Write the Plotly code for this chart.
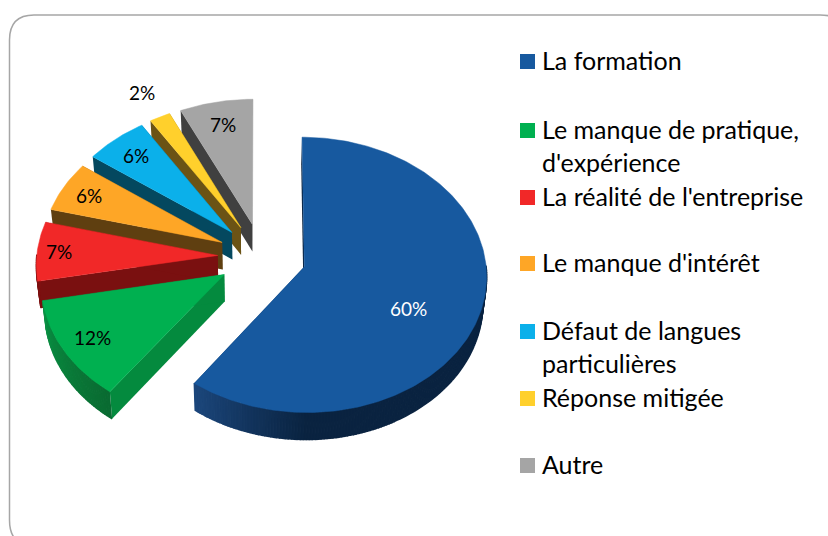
import numpy as np
import plotly.graph_objects as go

categories = [
    "La formation",
    "Le manque de pratique,<br>d'expérience",
    "La réalité de l'entreprise",
    "Le manque d'intérêt",
    "Défaut de langues<br>particulières",
    "Réponse mitigée",
    "Autre",
]
values = [60, 12, 7, 6, 6, 2, 7]
colors = ["#17599f", "#00b050", "#f12828", "#fea626", "#0bb0ea", "#ffd02c", "#a5a5a5"]
edge_colors = ["#0a2340", "#048a3e", "#7a1010", "#5f3f10", "#04485f", "#6b5315", "#404040"]
# wall colour at the start and at the end of each slice's outer rim
rim_start = ["#0a2340", "#0a6b32", "#7a1010", "#5f3f10", "#04485f", "#6b5315", "#404040"]
rim_end = ["#1c477c", "#0a9144", "#8a1414", "#5f3f10", "#04485f", "#6b5315", "#404040"]
label_radius = [0.63, 0.83, 0.88, 0.84, 0.82, 1.23, 0.81]
label_turn = [10, 0, 0, 0, 0, 0, 0]
label_colors = ["white", "black", "black", "black", "black", "black", "black"]
legend_y = [61, 130, 197, 263, 331, 398, 465]

# tilted pie, canvas pixels as axis units
CX, CY, RX, RY = 262, 256.5, 181, 136
EXPLODE = 0.245
PERSP = 0.058
DEPTH = 27
VANISH_X = 251
FONT = "Lato"


def project(x, y):
    w = 1 + PERSP * y
    return CX + RX * x / w, CY - RY * y / w


def lower(sx, sy):
    # bottom face of the pie, slightly pulled to the centre
    return VANISH_X + (sx - VANISH_X) * 0.984, sy + DEPTH


def mix(c1, c2, t):
    a = [int(c1[i:i + 2], 16) for i in (1, 3, 5)]
    b = [int(c2[i:i + 2], 16) for i in (1, 3, 5)]
    return "rgb(%d,%d,%d)" % tuple(p + (q - p) * t for p, q in zip(a, b))


def poly(xs, ys, color, width=0.5):
    return go.Scatter(
        x=list(xs), y=list(ys), mode="lines", fill="toself", fillcolor=color,
        line=dict(width=width, color=color), hoverinfo="skip",
    )


fig = go.Figure()

shares = np.array(values) / sum(values) * 2 * np.pi
ends = np.cumsum(shares)
starts = ends - shares
labels = []

# back slices first, so the front ones cover them
for i in range(len(values) - 1, -1, -1):
    mid = (starts[i] + ends[i]) / 2
    ox, oy = EXPLODE * np.sin(mid), EXPLODE * np.cos(mid)
    th = np.linspace(starts[i], ends[i], max(int(values[i] * 4), 12))
    ax, ay = project(ox, oy)
    rim_x, rim_y = project(ox + np.sin(th), oy + np.cos(th))
    low_ax, low_ay = lower(ax, ay)
    low_x, low_y = lower(rim_x, rim_y)

    # flat side walls
    fig.add_trace(poly([ax, rim_x[0], low_x[0], low_ax], [ay, rim_y[0], low_y[0], low_ay], edge_colors[i], 0))
    fig.add_trace(poly([ax, rim_x[-1], low_x[-1], low_ax], [ay, rim_y[-1], low_y[-1], low_ay], edge_colors[i], 0))

    # outer wall, in small strips for the shading; only the front of the rim shows
    for k in range(len(th) - 1):
        if np.cos(th[k]) > 0 and np.cos(th[k + 1]) > 0:
            continue
        frac = (th[k] - starts[i]) / (ends[i] - starts[i])
        t = min(1, max(0, (frac - 0.83) * 6)) if i == 0 else frac
        fig.add_trace(poly(
            [rim_x[k], rim_x[k + 1], low_x[k + 1], low_x[k]],
            [rim_y[k], rim_y[k + 1], low_y[k + 1], low_y[k]],
            mix(rim_start[i], rim_end[i], t),
            width=1.5,
        ))

    fig.add_trace(poly([ax, *rim_x, ax], [ay, *rim_y, ay], colors[i]))

    turn = mid + np.radians(label_turn[i])
    lx, ly = project(ox + label_radius[i] * np.sin(turn), oy + label_radius[i] * np.cos(turn))
    labels.append(dict(
        x=lx, y=ly, text="%d%%" % values[i], showarrow=False,
        font=dict(family=FONT, size=19, color=label_colors[i]),
    ))

# legend swatches
fig.add_trace(go.Scatter(
    x=[527.5] * len(categories), y=[v + 0.5 for v in legend_y], mode="markers",
    marker=dict(symbol="square", size=15, color=colors, line=dict(width=0)),
    hoverinfo="skip",
))

for name, y in zip(categories, legend_y):
    labels.append(dict(
        x=541, y=y - 17, text=name, showarrow=False, xanchor="left", yanchor="top",
        align="left", font=dict(family=FONT, size=25, color="black"), borderpad=0,
    ))

fig.update_layout(
    width=828,
    height=536,
    margin=dict(l=0, r=0, t=0, b=0),
    paper_bgcolor="white",
    plot_bgcolor="white",
    showlegend=False,
    xaxis=dict(range=[0, 828], visible=False),
    yaxis=dict(range=[536, 0], visible=False),
    annotations=labels,
    shapes=[dict(
        type="path", layer="below",
        path="M 9.5 40 Q 9.5 15 34 15 L 820 15 Q 850 15 850 45 L 850 520 Q 850 546 820 546 L 34 546 Q 9.5 546 9.5 520 Z",
        line=dict(color="#a6a6a6", width=1.5),
    )],
)

fig.write_html("out.html", config=dict(displayModeBar=False), post_script="document.body.style.margin='0';")
